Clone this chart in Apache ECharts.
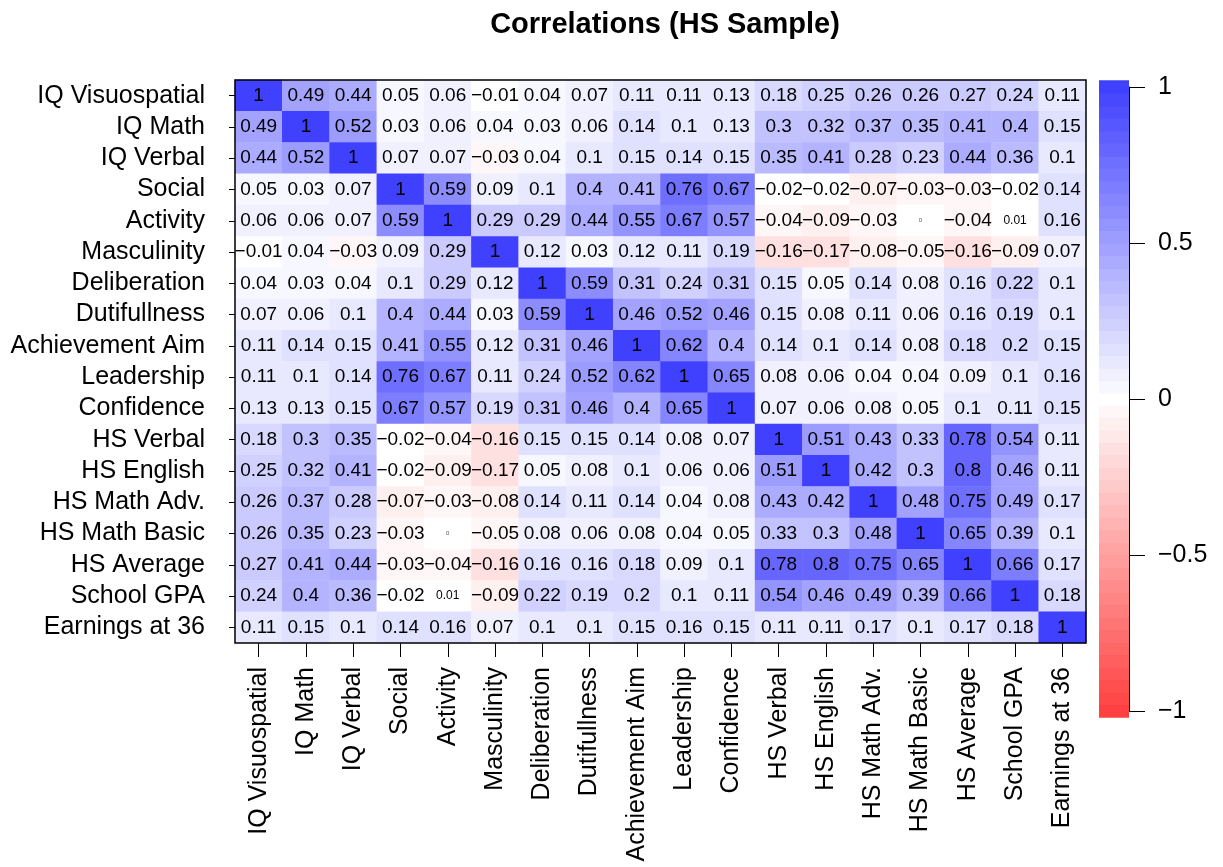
<!DOCTYPE html>
<html>
<head>
<meta charset="utf-8">
<script src="https://cdn.jsdelivr.net/npm/echarts@6/dist/echarts.min.js"></script>
<style>
  html, body { margin: 0; padding: 0; background: #fff; }
  #chart { width: 1223px; height: 867px; }
</style>
</head>
<body>
<div id="chart"></div>
<script>
// Variable names (rows top to bottom, columns left to right)
const variables = [
  'IQ Visuospatial', 'IQ Math', 'IQ Verbal', 'Social', 'Activity', 'Masculinity',
  'Deliberation', 'Dutifullness', 'Achievement Aim', 'Leadership', 'Confidence',
  'HS Verbal', 'HS English', 'HS Math Adv.', 'HS Math Basic', 'HS Average',
  'School GPA', 'Earnings at 36'
];

// Correlation matrix, one row per variable
const rowIQVisuospatial = [1, 0.49, 0.44, 0.05, 0.06, -0.01, 0.04, 0.07, 0.11, 0.11, 0.13, 0.18, 0.25, 0.26, 0.26, 0.27, 0.24, 0.11];
const rowIQMath        = [0.49, 1, 0.52, 0.03, 0.06, 0.04, 0.03, 0.06, 0.14, 0.1, 0.13, 0.3, 0.32, 0.37, 0.35, 0.41, 0.4, 0.15];
const rowIQVerbal      = [0.44, 0.52, 1, 0.07, 0.07, -0.03, 0.04, 0.1, 0.15, 0.14, 0.15, 0.35, 0.41, 0.28, 0.23, 0.44, 0.36, 0.1];
const rowSocial        = [0.05, 0.03, 0.07, 1, 0.59, 0.09, 0.1, 0.4, 0.41, 0.76, 0.67, -0.02, -0.02, -0.07, -0.03, -0.03, -0.02, 0.14];
const rowActivity      = [0.06, 0.06, 0.07, 0.59, 1, 0.29, 0.29, 0.44, 0.55, 0.67, 0.57, -0.04, -0.09, -0.03, 0, -0.04, 0.01, 0.16];
const rowMasculinity   = [-0.01, 0.04, -0.03, 0.09, 0.29, 1, 0.12, 0.03, 0.12, 0.11, 0.19, -0.16, -0.17, -0.08, -0.05, -0.16, -0.09, 0.07];
const rowDeliberation  = [0.04, 0.03, 0.04, 0.1, 0.29, 0.12, 1, 0.59, 0.31, 0.24, 0.31, 0.15, 0.05, 0.14, 0.08, 0.16, 0.22, 0.1];
const rowDutifullness  = [0.07, 0.06, 0.1, 0.4, 0.44, 0.03, 0.59, 1, 0.46, 0.52, 0.46, 0.15, 0.08, 0.11, 0.06, 0.16, 0.19, 0.1];
const rowAchievement   = [0.11, 0.14, 0.15, 0.41, 0.55, 0.12, 0.31, 0.46, 1, 0.62, 0.4, 0.14, 0.1, 0.14, 0.08, 0.18, 0.2, 0.15];
const rowLeadership    = [0.11, 0.1, 0.14, 0.76, 0.67, 0.11, 0.24, 0.52, 0.62, 1, 0.65, 0.08, 0.06, 0.04, 0.04, 0.09, 0.1, 0.16];
const rowConfidence    = [0.13, 0.13, 0.15, 0.67, 0.57, 0.19, 0.31, 0.46, 0.4, 0.65, 1, 0.07, 0.06, 0.08, 0.05, 0.1, 0.11, 0.15];
const rowHSVerbal      = [0.18, 0.3, 0.35, -0.02, -0.04, -0.16, 0.15, 0.15, 0.14, 0.08, 0.07, 1, 0.51, 0.43, 0.33, 0.78, 0.54, 0.11];
const rowHSEnglish     = [0.25, 0.32, 0.41, -0.02, -0.09, -0.17, 0.05, 0.08, 0.1, 0.06, 0.06, 0.51, 1, 0.42, 0.3, 0.8, 0.46, 0.11];
const rowHSMathAdv     = [0.26, 0.37, 0.28, -0.07, -0.03, -0.08, 0.14, 0.11, 0.14, 0.04, 0.08, 0.43, 0.42, 1, 0.48, 0.75, 0.49, 0.17];
const rowHSMathBasic   = [0.26, 0.35, 0.23, -0.03, 0, -0.05, 0.08, 0.06, 0.08, 0.04, 0.05, 0.33, 0.3, 0.48, 1, 0.65, 0.39, 0.1];
const rowHSAverage     = [0.27, 0.41, 0.44, -0.03, -0.04, -0.16, 0.16, 0.16, 0.18, 0.09, 0.1, 0.78, 0.8, 0.75, 0.65, 1, 0.66, 0.17];
const rowSchoolGPA     = [0.24, 0.4, 0.36, -0.02, 0.01, -0.09, 0.22, 0.19, 0.2, 0.1, 0.11, 0.54, 0.46, 0.49, 0.39, 0.66, 1, 0.18];
const rowEarnings36    = [0.11, 0.15, 0.1, 0.14, 0.16, 0.07, 0.1, 0.1, 0.15, 0.16, 0.15, 0.11, 0.11, 0.17, 0.1, 0.17, 0.18, 1];

const corrRows = [
  rowIQVisuospatial, rowIQMath, rowIQVerbal, rowSocial, rowActivity, rowMasculinity,
  rowDeliberation, rowDutifullness, rowAchievement, rowLeadership, rowConfidence,
  rowHSVerbal, rowHSEnglish, rowHSMathAdv, rowHSMathBasic, rowHSAverage,
  rowSchoolGPA, rowEarnings36
];

// Colour-key tick values
const keyTicks = [-1, -0.5, 0, 0.5, 1];

// Red -> white -> blue ramp, quantised into bands of width 0.04
const BAND = 0.04;
const NBAND = 25;
const BLUE = [64, 64, 255], RED = [255, 64, 64], WHITE = [255, 255, 255];
function rampRGB(t) {
  const end = t >= 0 ? BLUE : RED;
  const a = Math.min(1, Math.abs(t));
  return WHITE.map((w, i) => Math.round(w + (end[i] - w) * a));
}
function rgb(c) { return 'rgb(' + c.join(',') + ')'; }
const pieces = [];
const keyBands = [];
for (let k = -NBAND; k <= NBAND; k++) {
  const lo = (k - 0.5) * BAND, hi = (k + 0.5) * BAND;
  const c = rampRGB(k / NBAND);
  pieces.push({ gte: lo, lt: hi, color: rgb(c) });
  keyBands.push([lo, hi, rgb(c), rgb(c.map(x => Math.max(0, x - 14)))]);
}

const heatData = [];
corrRows.forEach((row, yi) => row.forEach((v, xi) => heatData.push([xi, yi, v])));

function fmt(v) {
  const s = String(Math.abs(v));
  return (v < 0 ? '\u2212' : '') + s;
}

const FONT = '"Liberation Sans", Arial, Helvetica, sans-serif';

const chart = echarts.init(document.getElementById('chart'), null, { renderer: 'canvas' });
chart.setOption({
  backgroundColor: '#ffffff',
  animation: false,
  textStyle: { fontFamily: FONT, color: '#000' },
  title: {
    text: 'Correlations (HS Sample)',
    left: 660, top: 5, textAlign: 'center',
    textStyle: { fontFamily: FONT, fontSize: 29, fontWeight: 'bold', color: '#000' }
  },
  grid: [
    { left: 235, right: 137, top: 80, bottom: 224, show: true, borderColor: '#000', borderWidth: 1.5, backgroundColor: 'transparent', z: 10 },
    { left: 1099, width: 30, top: 87, height: 624, show: false }
  ],
  xAxis: [
    {
      type: 'category', gridIndex: 0, data: variables, position: 'bottom',
      axisLine: { show: false },
      axisTick: { show: true, length: 14, alignWithLabel: true, lineStyle: { color: '#000', width: 1 } },
      axisLabel: { rotate: 90, fontSize: 25, color: '#000', margin: 24, fontFamily: FONT, interval: 0 },
      splitLine: { show: false }
    },
    { type: 'value', gridIndex: 1, min: 0, max: 1, show: false }
  ],
  yAxis: [
    {
      type: 'category', gridIndex: 0, data: variables, inverse: true,
      axisLine: { show: false },
      axisTick: { show: true, length: 6, alignWithLabel: true, lineStyle: { color: '#000', width: 1 } },
      axisLabel: { fontSize: 25, color: '#000', margin: 30, fontFamily: FONT, interval: 0 },
      splitLine: { show: false }
    },
    {
      type: 'value', gridIndex: 1, min: -1, max: 1, interval: 0.5, position: 'right',
      axisLine: { show: true, onZero: false, lineStyle: { color: '#000', width: 1 } },
      axisTick: { show: true, length: 16, lineStyle: { color: '#000', width: 1 } },
      axisLabel: {
        fontSize: 25, color: '#000', margin: 29, fontFamily: FONT,
        formatter: v => keyTicks.indexOf(v) >= 0 ? fmt(v) : ''
      },
      splitLine: { show: false },
      z: 5
    }
  ],
  visualMap: {
    type: 'piecewise', show: false, seriesIndex: 0, dimension: 2, pieces: pieces
  },
  series: [
    {
      type: 'heatmap', xAxisIndex: 0, yAxisIndex: 0, data: heatData,
      itemStyle: { borderWidth: 0 },
      emphasis: { disabled: true },
      label: {
        show: true, color: '#000', fontSize: 19, fontFamily: FONT,
        formatter: p => {
          const v = p.value[2];
          if (v === 0) return '{tiny|0}';
          if (v === 0.01) return '{small|' + fmt(v) + '}';
          return fmt(v);
        },
        rich: {
          tiny: { fontSize: 6, color: '#555', fontFamily: FONT },
          small: { fontSize: 12, color: '#000', fontFamily: FONT }
        }
      }
    },
    {
      type: 'custom', xAxisIndex: 1, yAxisIndex: 1, data: keyBands, clip: false,
      silent: true,
      renderItem: (params, api) => {
        const lo = api.value(0), hi = api.value(1);
        const p0 = api.coord([0, hi]);
        const p1 = api.coord([1, lo]);
        const band = keyBands[params.dataIndex];
        return {
          type: 'group',
          children: [
            {
              type: 'rect',
              shape: { x: p0[0], y: p0[1], width: p1[0] - p0[0], height: p1[1] - p0[1] + 0.5 },
              style: { fill: band[2] }
            },
            {
              type: 'line',
              shape: { x1: p0[0], y1: p0[1], x2: p1[0], y2: p0[1] },
              style: { stroke: band[3], lineWidth: 0.8 }
            }
          ]
        };
      },
      encode: { x: -1, y: [0, 1] },
      z: 1
    }
  ]
});
</script>
</body>
</html>
